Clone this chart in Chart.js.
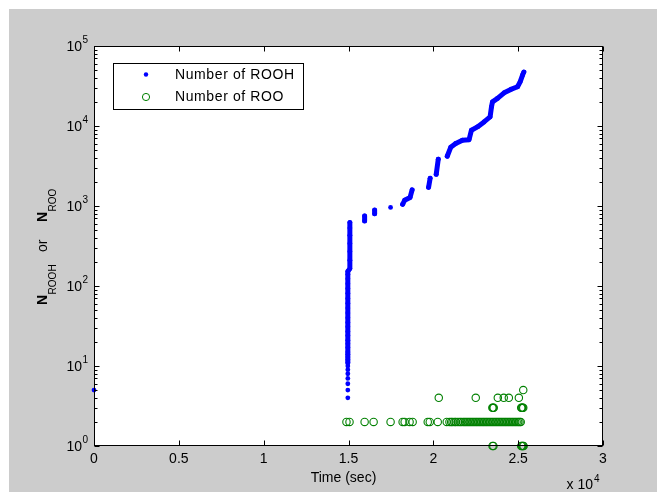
<!DOCTYPE html>
<html>
<head>
<meta charset="utf-8">
<script src="https://cdn.jsdelivr.net/npm/chart.js@4"></script>
<style>
  html, body { margin: 0; padding: 0; background: #fff; }
  canvas { display: block; }
</style>
</head>
<body>
<canvas id="grafico" width="657" height="492"></canvas>
<script>
// ROOH count per event; points sharing a run number are joined into one trace
const roohTime = [
  0,
  14960, 14960, 14960, 14960, 14960, 14960, 14960,
  14960, 14960, 14960, 14960, 14960, 14960, 14960, 14960, 14960, 14960, 14960, 14960,
  14960, 14960, 14960, 14960, 14960, 14960, 14960, 14960, 14960, 14960, 14960,
  15080, 15080, 15080, 15080, 15080, 15080, 15080,
  15950, 15950,
  16540, 16540,
  17480,
  18190, 18310, 18630, 18750,
  19720, 19810,
  20170, 20290,
  20820, 21024, 21320, 21715, 22105, 22246, 22600, 22990, 23345, 23428, 23487,
  23782, 24172, 24568, 24964, 25117, 25259, 25336
];
const roohCount = [
  5,
  4, 5, 6, 7, 8, 9, 10,
  11, 12, 13, 14, 15, 17, 19, 21, 24, 27, 31, 35,
  40, 46, 53, 61, 70, 81, 93, 107, 123, 140, 152,
  165, 210, 270, 340, 430, 530, 620,
  650, 750,
  800, 890,
  960,
  1050, 1180, 1280, 1590,
  1710, 2220,
  2490, 3840,
  4185, 5420, 6040, 6640, 6730, 8860, 9740, 11250, 13000, 17350, 20050,
  22120, 26000, 28660, 30930, 35700, 43330, 47200
];
const roohRun = [
  0,
  1, 2, 3, 4, 5, 6, 7,
  8, 8, 8, 8, 8, 8, 8, 8, 8, 8, 8, 8,
  8, 8, 8, 8, 8, 8, 8, 8, 8, 8, 8,
  8, 8, 8, 8, 8, 8, 8,
  9, 9,
  10, 10,
  11,
  12, 12, 12, 12,
  13, 13,
  14, 14,
  15, 15, 15, 15, 15, 15, 15, 15, 15, 15, 15,
  15, 15, 15, 15, 15, 15, 15
];

// ROO count per event
const rooTime = [
  14880, 15060, 15950, 16480, 17480, 18190, 18310, 18600, 18780, 19670, 19790, 20260,
  20790, 20950, 21050, 21130, 21250, 21330, 21450, 21560, 21650, 21760, 21850, 21940,
  22030, 22120, 22210, 22300, 22390, 22480, 22570, 22660, 22750, 22840, 22930, 23020,
  23110, 23200, 23290, 23380, 23470, 23560, 23650, 23740, 23830, 23920, 24010, 24100,
  24190, 24280, 24370, 24460, 24550, 24640, 24730, 24820, 24910, 25000, 25080, 25150,
  20320, 22500, 23800, 24150, 24450, 25040,
  23480, 23520, 23560, 25180, 25220, 25260, 25300,
  25300,
  23490, 23540, 25180, 25230, 25280, 25320
];
const rooCount = [
  2, 2, 2, 2, 2, 2, 2, 2, 2, 2, 2, 2,
  2, 2, 2, 2, 2, 2, 2, 2, 2, 2, 2, 2,
  2, 2, 2, 2, 2, 2, 2, 2, 2, 2, 2, 2,
  2, 2, 2, 2, 2, 2, 2, 2, 2, 2, 2, 2,
  2, 2, 2, 2, 2, 2, 2, 2, 2, 2, 2, 2,
  4, 4, 4, 4, 4, 4,
  3, 3, 3, 3, 3, 3, 3,
  5,
  1, 1, 1, 1, 1, 1
];

const xTickValues = [0, 5000, 10000, 15000, 20000, 25000, 30000];
const xTickLabels = ['0', '0.5', '1', '1.5', '2', '2.5', '3'];
const yDecades = [0, 1, 2, 3, 4, 5];

const azul = '#0000ff';
const verde = '#008000';
const fonte = '"Liberation Sans", Arial, sans-serif';

const figura = {
  id: 'figura',
  beforeDraw(chart) {
    const c = chart.ctx, a = chart.chartArea;
    c.save();
    c.fillStyle = '#ffffff';
    c.fillRect(0, 0, chart.width, chart.height);
    c.fillStyle = '#cccccc';
    c.fillRect(9, 9, chart.width - 9, chart.height - 9);
    c.fillStyle = '#ffffff';
    c.fillRect(a.left, a.top, a.right - a.left, a.bottom - a.top);
    c.restore();
  },
  afterDraw(chart) {
    const c = chart.ctx, a = chart.chartArea;
    const x = chart.scales.x, y = chart.scales.y;
    const L = a.left + 0.5, R = a.right - 0.5, T = a.top + 0.5, B = a.bottom - 0.5;
    c.save();

    // axes box
    c.strokeStyle = '#000';
    c.lineWidth = 1;
    c.strokeRect(L, T, R - L, B - T);

    // inward ticks
    c.beginPath();
    xTickValues.forEach(v => {
      const px = Math.round(x.getPixelForValue(v)) + 0.5;
      c.moveTo(px, B); c.lineTo(px, B - 5);
      c.moveTo(px, T); c.lineTo(px, T + 5);
    });
    yDecades.forEach(d => {
      const py = Math.round(y.getPixelForValue(Math.pow(10, d))) + 0.5;
      c.moveTo(L, py); c.lineTo(L + 5, py);
      c.moveTo(R, py); c.lineTo(R - 5, py);
      if (d < 5) {
        for (let m = 2; m <= 9; m++) {
          const pm = Math.round(y.getPixelForValue(m * Math.pow(10, d))) + 0.5;
          c.moveTo(L, pm); c.lineTo(L + 3, pm);
          c.moveTo(R, pm); c.lineTo(R - 3, pm);
        }
      }
    });
    c.stroke();

    // tick labels
    c.fillStyle = '#000';
    c.textBaseline = 'middle';
    c.font = '14px ' + fonte;
    c.textAlign = 'center';
    xTickValues.forEach((v, i) => {
      c.fillText(xTickLabels[i], x.getPixelForValue(v), a.bottom + 13);
    });
    yDecades.forEach(d => {
      const py = y.getPixelForValue(Math.pow(10, d));
      c.font = '14px ' + fonte;
      c.textAlign = 'right';
      c.fillText('10', 82, py + 1);
      c.font = '10px ' + fonte;
      c.textAlign = 'left';
      c.fillText(String(d), 82.5, py - 6);
    });

    // exponent of the time axis
    c.font = '14px ' + fonte;
    c.textAlign = 'right';
    c.fillText('x 10', 593, 485);
    c.font = '10px ' + fonte;
    c.textAlign = 'left';
    c.fillText('4', 594, 479);

    // axis titles
    c.font = '14px ' + fonte;
    c.textAlign = 'center';
    c.fillText('Time (sec)', (a.left + a.right) / 2 - 5, 478);

    c.save();
    c.translate(46.5, 245);
    c.rotate(-Math.PI / 2);
    c.textBaseline = 'alphabetic';
    c.textAlign = 'left';
    c.font = 'bold 14px ' + fonte;
    c.fillText('N', -60, 0);
    let w = c.measureText('N').width;
    c.font = '10px ' + fonte;
    c.fillText('ROOH', -60 + w + 0.5, 9);
    c.font = '14px ' + fonte;
    c.fillText('or', -7, 0);
    c.font = 'bold 14px ' + fonte;
    c.fillText('N', 23, 0);
    c.font = '10px ' + fonte;
    c.fillText('ROO', 23 + w + 0.5, 9);
    c.restore();

    // legend
    c.fillStyle = '#fff';
    c.fillRect(113.5, 63.5, 190, 46);
    c.strokeStyle = '#000';
    c.strokeRect(113.5, 63.5, 190, 46);
    c.fillStyle = azul;
    c.beginPath();
    c.arc(146, 74.5, 2.2, 0, Math.PI * 2);
    c.fill();
    c.strokeStyle = verde;
    c.beginPath();
    c.arc(146, 97, 3.6, 0, Math.PI * 2);
    c.stroke();
    c.fillStyle = '#000';
    c.font = '14px ' + fonte;
    c.textAlign = 'left';
    c.textBaseline = 'middle';
    c.letterSpacing = '0.6px';
    c.fillText('Number of ROOH', 175, 75);
    c.fillText('Number of ROO', 175, 97);
    c.restore();
  }
};

const ctx = document.getElementById('grafico').getContext('2d');
const chart = new Chart(ctx, {
  type: 'scatter',
  data: {
    datasets: [{
      label: 'Number of ROO',
      data: rooTime.map((t, i) => ({ x: t, y: rooCount[i] })),
      pointStyle: 'circle',
      pointRadius: 3.7,
      borderWidth: 1.1,
      borderColor: verde,
      backgroundColor: 'rgba(0,0,0,0)',
      clip: false
    }, {
      label: 'Number of ROOH',
      data: roohTime.map((t, i) => ({ x: t, y: roohCount[i] })),
      showLine: true,
      borderColor: azul,
      borderWidth: 5,
      borderCapStyle: 'round',
      borderJoinStyle: 'round',
      pointRadius: 2.4,
      pointBorderWidth: 0,
      pointBackgroundColor: azul,
      segment: {
        borderColor: s => roohRun[s.p0DataIndex] === roohRun[s.p1DataIndex] ? azul : 'rgba(0,0,0,0)'
      },
      clip: false
    }]
  },
  options: {
    responsive: false,
    animation: false,
    layout: { padding: { left: 94, top: 46, right: 54, bottom: 46 } },
    scales: {
      x: { type: 'linear', min: 0, max: 30000, display: false },
      y: { type: 'logarithmic', min: 1, max: 100000, display: false }
    },
    plugins: {
      legend: { display: false },
      tooltip: { enabled: false }
    }
  },
  plugins: [figura]
});
</script>
</body>
</html>
